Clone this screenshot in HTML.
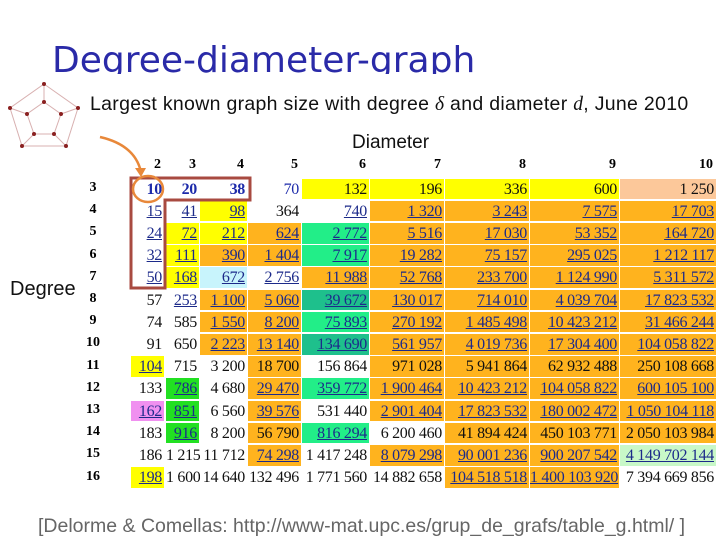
<!DOCTYPE html>
<html><head><meta charset="utf-8"><style>
body{margin:0;width:720px;height:540px;background:#fff;position:relative;overflow:hidden;font-family:"Liberation Sans",sans-serif}
.abs{position:absolute}
#title{left:52px;top:38px;height:36px;overflow:hidden;font-family:"DejaVu Sans",sans-serif;font-size:36px;color:#2a2aa8;white-space:nowrap;line-height:46px;letter-spacing:0px}
.cell{position:absolute;font-family:"Liberation Serif",serif;font-size:16px;text-align:right;box-sizing:border-box;padding-right:2px;line-height:21px;white-space:nowrap;letter-spacing:-0.3px}
.hdr{position:absolute;font-family:"Liberation Serif",serif;font-weight:bold;font-size:14px;text-align:right}
</style></head><body>
<div id="title" class="abs">Degree-diameter-graph</div>
<svg class="abs" style="left:8px;top:78px" width="80" height="72">
<g stroke="#d8b0b0" stroke-width="1" fill="none">
<polygon points="36,6 70,30 58,68 14,68 2,30"/>
<polygon points="36,24 53,36 46,56 26,56 19,36"/>
<line x1="36" y1="6" x2="36" y2="24"/><line x1="70" y1="30" x2="53" y2="36"/><line x1="58" y1="68" x2="46" y2="56"/><line x1="14" y1="68" x2="26" y2="56"/><line x1="2" y1="30" x2="19" y2="36"/>
</g>
<g fill="#8a2020"><circle cx="36" cy="6" r="2"/><circle cx="70" cy="30" r="2"/><circle cx="58" cy="68" r="2"/><circle cx="14" cy="68" r="2"/><circle cx="2" cy="30" r="2"/><circle cx="36" cy="24" r="2"/><circle cx="53" cy="36" r="2"/><circle cx="46" cy="56" r="2"/><circle cx="26" cy="56" r="2"/><circle cx="19" cy="36" r="2"/></g>
</svg>
<div class="abs" style="left:90px;top:93px;font-size:19.5px;color:#111;white-space:nowrap;letter-spacing:0.3px">Largest known graph size with degree <i style="font-family:'Liberation Serif',serif">δ</i> and diameter <i style="font-family:'Liberation Serif',serif">d</i>, June 2010</div>
<div class="abs" style="left:352px;top:132px;font-size:19px;color:#111">Diameter</div>
<div class="abs" style="left:10px;top:278px;font-size:20px;color:#111">Degree</div>
<div id="table"></div>
<svg class="abs" style="left:0;top:0" width="720" height="540">
<path d="M100,137 Q135,145 141,172" stroke="#e8883a" stroke-width="2.5" fill="none"/>
<polygon points="135,168 146,168 141,177" fill="#e8883a"/>
<path d="M131,178 H250 V200 H165 V288 H131 Z" stroke="#a84a40" stroke-width="3" fill="none"/>
<ellipse cx="148" cy="189" rx="15" ry="13" stroke="#e8883a" stroke-width="2.5" fill="none"/>
</svg>
<div class="abs" style="left:38px;top:515px;font-size:19.5px;color:#666;white-space:nowrap">[Delorme &amp; Comellas: http://www-mat.upc.es/grup_de_grafs/table_g.html/ ]</div>
<script>
const diameters=[2,3,4,5,6,7,8,9,10];
const degrees=[3,4,5,6,7,8,9,10,11,12,13,14,15,16];
const values=[
["10","20","38","70","132","196","336","600","1 250"],
["15","41","98","364","740","1 320","3 243","7 575","17 703"],
["24","72","212","624","2 772","5 516","17 030","53 352","164 720"],
["32","111","390","1 404","7 917","19 282","75 157","295 025","1 212 117"],
["50","168","672","2 756","11 988","52 768","233 700","1 124 990","5 311 572"],
["57","253","1 100","5 060","39 672","130 017","714 010","4 039 704","17 823 532"],
["74","585","1 550","8 200","75 893","270 192","1 485 498","10 423 212","31 466 244"],
["91","650","2 223","13 140","134 690","561 957","4 019 736","17 304 400","104 058 822"],
["104","715","3 200","18 700","156 864","971 028","5 941 864","62 932 488","250 108 668"],
["133","786","4 680","29 470","359 772","1 900 464","10 423 212","104 058 822","600 105 100"],
["162","851","6 560","39 576","531 440","2 901 404","17 823 532","180 002 472","1 050 104 118"],
["183","916","8 200","56 790","816 294","6 200 460","41 894 424","450 103 771","2 050 103 984"],
["186","1 215","11 712","74 298","1 417 248","8 079 298","90 001 236","900 207 542","4 149 702 144"],
["198","1 600","14 640","132 496","1 771 560","14 882 658","104 518 518","1 400 103 920","7 394 669 856"]];
const colorCodes=["WWWWYYYYP","WWYWWOOOO","WYYOGOOOO","WYOOGOOOO","WYLWOOOOO","WWOOTOOOO","WWOOGOOOO","WWOOTOOOO","YWWOWOOOO","WBWOGOOOO","MBWOWOOOO","WBWOGWOOO","WWWOWOOOE","YWWWWWOOW"];
const palette={W:"#ffffff",Y:"#ffff00",O:"#ffb31e",P:"#fcc89a",G:"#22ee88",T:"#1ec08c",L:"#c8f4fc",B:"#22e022",M:"#f090f0",E:"#c8f8c8"};
const colL=[131,166,200,248,302,370,445,530,620],colR=[164,199,247,301,369,444,529,619,716];
const top0=178,rowH=22.2;
const t=document.getElementById('table');
diameters.forEach((d,j)=>{const h=document.createElement('div');h.className='hdr';


h.style.left=colL[j]+'px';h.style.width=(colR[j]-colL[j]-3)+'px';h.style.top='157px';h.textContent=d;t.appendChild(h);});
degrees.forEach((g,i)=>{const y=top0+i*rowH;
const r=document.createElement('div');r.className='hdr';


r.style.left='83px';r.style.width='20px';r.style.textAlign='center';r.style.top=(y+2)+'px';r.textContent=g;t.appendChild(r);
values[i].forEach((v,j)=>{const c=document.createElement('div');c.className='cell';


const code=colorCodes[i][j];
c.style.left=colL[j]+'px';c.style.top=(y+0.5)+'px';c.style.width=(colR[j]-colL[j])+'px';c.style.height=(rowH-1.5)+'px';
c.style.background=palette[code];
const linked=(code!=='W'&&i>0&&!(i===8&&j>2)&&!(i===11&&j>=3&&j!==4))||(i<5&&j===0)||(i===1&&(j===1||j===4))||(i===4&&j===3)||(i===5&&j===1);
c.style.color=linked?'#1c2a8a':'#111';
if(i===0&&j<4)c.style.color='#1c2aaa';
if(i===0&&j<3)c.style.fontWeight='bold';
if(linked&&i>0)c.style.textDecoration='underline';
c.textContent=v;t.appendChild(c);});});
</script>
</body></html>
